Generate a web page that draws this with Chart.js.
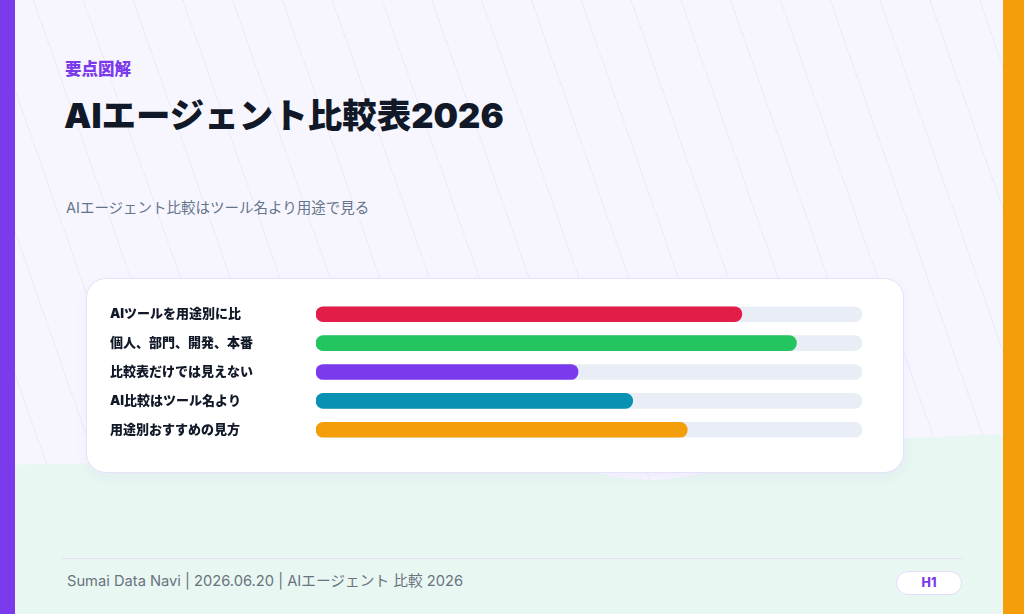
<!DOCTYPE html>
<html lang="ja">
<head>
<meta charset="utf-8">
<title>AIエージェント比較表2026</title>
<script src="https://cdn.jsdelivr.net/npm/chart.js@4.4.1/dist/chart.umd.min.js"></script>
<style>
  html, body { margin: 0; padding: 0; }
  body {
    width: 1024px; height: 614px; overflow: hidden; position: relative;
    font-family: Inter, "Noto Sans CJK JP", sans-serif;
    background: #f7f6fe;
  }
  .lines {
    position: absolute; inset: 0;
    background: repeating-linear-gradient(70.7deg, transparent 0 46px, #ecebf8 46px 47px);
  }
  .green {
    position: absolute; left: 0; top: 0; width: 1024px; height: 614px;
    background: #e8f7f1;
    clip-path: polygon(0 465px, 200px 461px, 400px 456px, 600px 450px, 800px 443px, 1024px 433px, 1024px 614px, 0 614px);
  }
  .bump {
    position: absolute; left: 470px; top: 180px; width: 360px; height: 300px;
    border-radius: 50%;
    background: #f7f6fe repeating-linear-gradient(70.7deg, transparent 0 46px, #ecebf8 46px 47px) fixed;
  }
  .bar-left { position: absolute; left: 0; top: 0; width: 15px; height: 614px; background: #7c3aed; }
  .bar-right { position: absolute; left: 1003px; top: 0; width: 21px; height: 614px; background: #f59e0b; }
  .kicker { position: absolute; left: 65px; top: 56px; font-size: 16.5px; font-weight: 800; color: #7c3aed; }
  .title { position: absolute; left: 64px; top: 88px; font-size: 34.5px; font-weight: 900; color: #111827; }
  .sub { position: absolute; left: 66px; top: 196px; font-size: 14.5px; color: #64748b; }
  .card {
    position: absolute; left: 86px; top: 278px; width: 816px; height: 193px;
    background: #fff; border: 1px solid #e6e2fb; border-radius: 20px;
    box-shadow: 0 4px 14px rgba(124, 58, 237, 0.05);
  }
  .chart { position: absolute; left: 110px; top: 292px; width: 752px; height: 160px; }
  .rule { position: absolute; left: 62px; top: 558px; width: 901px; height: 1px; background: #e4e0fa; }
  .foot { position: absolute; left: 67px; top: 569px; font-size: 14.7px; color: #6b7280; }
  .badge {
    position: absolute; left: 896px; top: 571px; width: 64px; height: 22px;
    border: 1px solid #e4dcfb; border-radius: 12px; background: #fff;
    color: #7c3aed; font-size: 12.5px; font-weight: 800; text-align: center; line-height: 22px;
  }
</style>
</head>
<body>
<div class="lines"></div>
<div class="green"></div>
<div class="bump"></div>
<div class="bar-left"></div>
<div class="bar-right"></div>
<div class="kicker">要点図解</div>
<div class="title">AIエージェント比較表2026</div>
<div class="sub">AIエージェント比較はツール名より用途で見る</div>
<div class="card"></div>
<div class="chart"><canvas id="c"></canvas></div>
<div class="rule"></div>
<div class="foot">Sumai Data Navi | 2026.06.20 | AIエージェント 比較 2026</div>
<div class="badge">H1</div>
<script>
// data
const categories = [
    'AIツールを用途別に比',
    '個人、部門、開発、本番',
    '比較表だけでは見えない',
    'AI比較はツール名より',
    '用途別おすすめの見方'
];
const scores = [78, 88, 48, 58, 68];
const trackMax = [100, 100, 100, 100, 100];
const barColors = ['#e11d48', '#22c55e', '#7c3aed', '#0891b2', '#f59e0b'];

const ctx = document.getElementById('c').getContext('2d');
new Chart(ctx, {
    type: 'bar',
    data: {
        labels: categories,
        datasets: [
            {
                data: scores,
                backgroundColor: barColors,
                borderRadius: 8,
                borderSkipped: false,
                barThickness: 15,
                grouped: false,
                order: 0
            },
            {
                data: trackMax,
                backgroundColor: '#e8edf6',
                borderRadius: 8,
                borderSkipped: false,
                barThickness: 15,
                grouped: false,
                order: 1
            }
        ]
    },
    options: {
        indexAxis: 'y',
        responsive: true,
        maintainAspectRatio: false,
        animation: false,
        layout: {padding: 0},
        plugins: {
            legend: {display: false},
            tooltip: {enabled: false}
        },
        scales: {
            x: {
                display: false,
                min: 0,
                max: 100
            },
            y: {
                grid: {display: false},
                border: {display: false},
                afterFit: function(scale) { scale.width = 206; },
                ticks: {
                    crossAlign: 'far',
                    padding: 0,
                    color: '#111827',
                    font: {family: 'Inter, "Noto Sans CJK JP", sans-serif', size: 13, weight: '900'}
                }
            }
        }
    }
});
</script>
</body>
</html>
